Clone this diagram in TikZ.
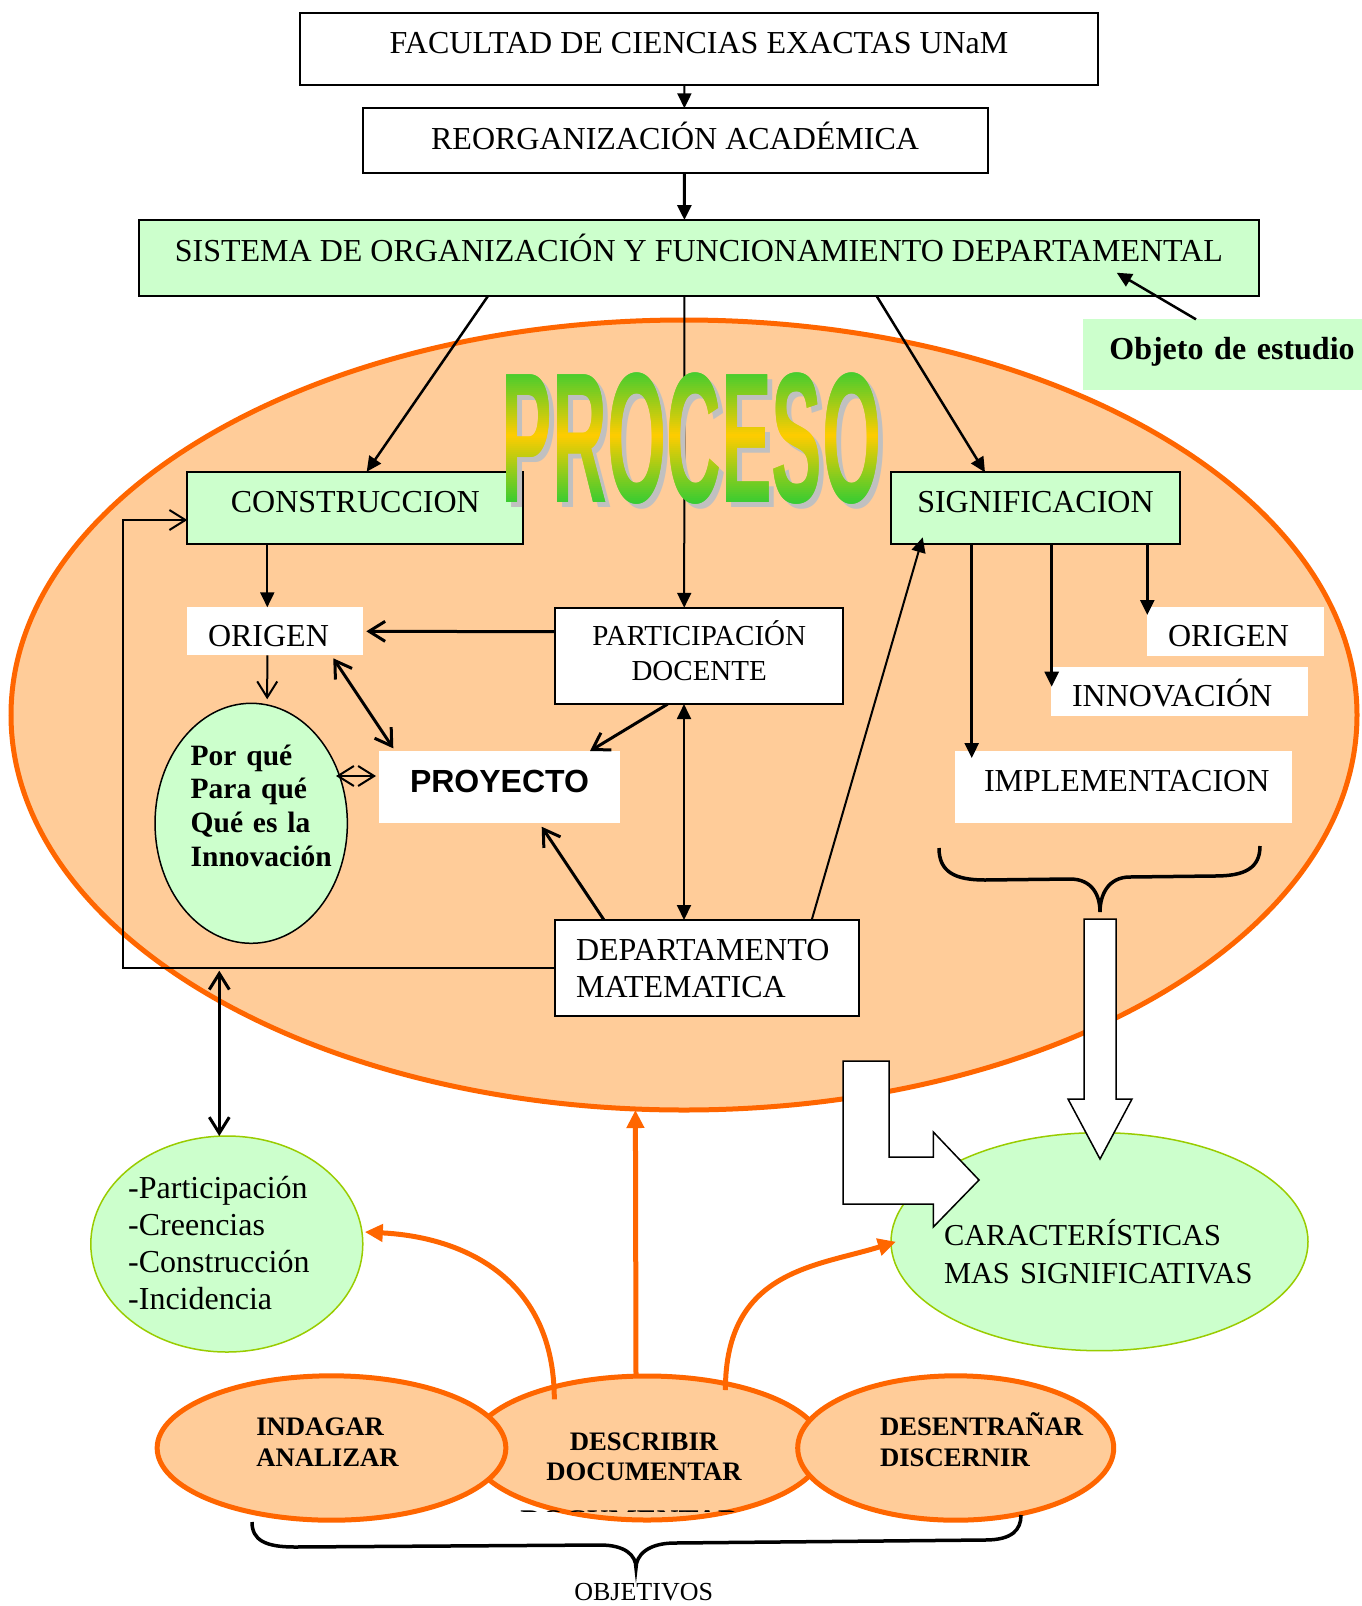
\documentclass[tikz,border=0pt]{standalone}
\usepackage{graphicx}
\usepackage{fontspec}
\setmainfont{Liberation Serif}
\newfontfamily\arialfont{Liberation Sans}
\usetikzlibrary{arrows.meta,shapes.geometric}

\definecolor{peach}{HTML}{FFCC99}
\definecolor{orng}{HTML}{FF6600}
\definecolor{mint}{HTML}{CCFFCC}
\definecolor{lime}{HTML}{99CC00}
\definecolor{procgreen}{HTML}{33CC33}
\definecolor{procyellow}{HTML}{FFCC00}
\definecolor{shadowgray}{HTML}{C0C0C0}

\newcommand\fsz[2]{\fontsize{#1}{#2}\selectfont}
\newcommand\procword{\scalebox{0.76}[1.857]{\arialfont\bfseries\fsz{100}{100}PROCESO}}

\tikzset{
  every node/.append style={outer sep=0pt, font=\fsz{32}{37}},
  wbox/.style={draw, line width=2pt, fill=white, inner sep=0pt, align=center},
  gbox/.style={draw, line width=2pt, fill=mint, inner sep=0pt, align=center},
  pbox/.style={fill=white, inner ysep=0pt},
  txt/.style={inner sep=0pt},
  tri/.style={-{Triangle[length=15pt,width=14pt]}},
  tritri/.style={{Triangle[length=15pt,width=14pt]}-{Triangle[length=15pt,width=14pt]}},
  barb/.style={-{Straight Barb[length=16pt,width=20pt]}},
  barbbarb/.style={{Straight Barb[length=16pt,width=20pt]}-{Straight Barb[length=16pt,width=20pt]}},
  oarrow/.style={draw=orng, line width=5pt, -{Triangle[length=18pt,width=17pt]}},
  objell/.style={ellipse, draw=orng, fill=peach, line width=5pt},
  objtext/.style={txt, font=\bfseries\fsz{26.7}{31.7}},
}

\begin{document}
\begin{tikzpicture}[x=1pt, y=-1pt]
\useasboundingbox (0,0) rectangle (1362,1606);
\fill[white] (0,0) rectangle (1362,1606);

% the process ellipse
\node[ellipse, draw=orng, fill=peach, line width=5pt, minimum width=1346pt, minimum height=790pt] (proc) at (684,715) {};

% top chain
\node[wbox, minimum width=798pt, minimum height=72.3pt, text height=24.4pt, text depth=15.6pt] (fac) at (699,48.9) {FACULTAD DE CIENCIAS EXACTAS UNaM};
\node[wbox, minimum width=625pt, minimum height=64.4pt, text height=28.5pt, text depth=11.5pt] (reo) at (675.1,140.5) {REORGANIZACIÓN ACADÉMICA};
\node[gbox, minimum width=1120.8pt, minimum height=76pt, text height=23.7pt, text depth=16.3pt] (sis) at (698.9,258) {SISTEMA DE ORGANIZACIÓN Y FUNCIONAMIENTO DEPARTAMENTAL};
\node[fill=mint, inner ysep=0pt, inner xsep=26pt, text width=226.7pt, align=left, minimum height=70.7pt, text height=24.3pt, text depth=15.7pt, font=\bfseries\fsz{32}{37}] (obj) at (1222.7,354.7) {\mbox{Objeto de estudio}};

% boxes inside the process
\node[gbox, minimum width=336pt, minimum height=72.3pt, text height=24.4pt, text depth=15.6pt] (con) at (355.3,507.9) {CONSTRUCCION};
\node[gbox, minimum width=289pt, minimum height=71.7pt, text height=24.1pt, text depth=15.9pt] (sig) at (1035.5,508.2) {SIGNIFICACION};
\node[pbox, inner xsep=20.7pt, text width=134.6pt, align=left, minimum height=48pt, text height=35.4pt, text depth=4.6pt] (ori) at (275.3,631.3) {ORIGEN};
\node[wbox, minimum width=288.3pt, minimum height=96.3pt, text width=280pt, text height=9.1pt, text depth=30.9pt, font=\fsz{29}{35}] (par) at (699.2,655.9) {PARTICIPACIÓN\\DOCENTE};
\node[pbox, inner xsep=0pt, minimum width=241pt, minimum height=72.3pt, text height=25.5pt, text depth=14.5pt, font=\arialfont\bfseries\fsz{32}{37}] (pro) at (499.5,787.2) {PROYECTO};
\node[draw, line width=2pt, fill=white, inner ysep=0pt, inner xsep=21pt, text width=262.3pt, align=left, minimum height=96pt, text height=12pt, text depth=28pt, font=\fsz{32}{37.7}] (dep) at (707.2,968) {\mbox{DEPARTAMENTO}\\MATEMATICA};
\node[ellipse, draw, fill=mint, line width=1.5pt, minimum width=192.3pt, minimum height=240pt] (por) at (251.2,823.3) {};
\node[txt, text width=121pt, align=left, text height=11.7pt, text depth=128.3pt, font=\bfseries\fsz{29.5}{33.9}] (portxt) at (por.center) {\mbox{Por qué}\\\mbox{Para qué}\\\mbox{Qué es la}\\\mbox{Innovación}};

\node[pbox, inner xsep=21pt, text width=135pt, align=left, minimum height=48.4pt, text height=35.2pt, text depth=4.8pt] (ori2) at (1235.5,631.5) {ORIGEN};
\node[pbox, inner xsep=21pt, text width=215pt, align=left, minimum height=48.4pt, text height=34.5pt, text depth=5.5pt] (inn) at (1179.5,691.5) {INNOVACIÓN};
\node[pbox, inner xsep=29pt, text width=279pt, align=left, minimum height=72.3pt, text height=24.7pt, text depth=15.3pt] (imp) at (1123.5,787.2) {IMPLEMENTACION};

% line from the top box that passes behind the title
\draw[tri, line width=2pt] ([xshift=-14.5]sis.south) -- ([xshift=-15]par.north);

% PROCESO title: grey shadow, then a banded green-yellow-green fill
\node[txt, anchor=base west, text=shadowgray] (procshadow) at (506.5,507) {\procword};
\foreach \i in {0,...,74} {
  \pgfmathsetmacro\ya{362+2*\i}
  \pgfmathsetmacro\yb{\ya+3}
  \pgfmathsetmacro\pc{min(100,abs(\ya+1-435.5)/69*100)}
  \colorlet{bandcol}{procgreen!\pc!procyellow}
  \begin{scope}
    \clip (495,\ya) rectangle (890,\yb);
    \node[txt, anchor=base west, text=bandcol] (band\i) at (501.5,502) {\procword};
  \end{scope}
}

% top connectors
\draw[tri, line width=2pt] ([xshift=-14.6]fac.south) -- ([xshift=9.3]reo.north);
\draw[tri, line width=3pt] ([xshift=9.3]reo.south) -- ([xshift=-14.5]sis.north);
\draw[tri, line width=2.5pt] ([xshift=-210.9]sis.south) -- ([xshift=11.4]con.north);
\draw[tri, line width=2.5pt] ([xshift=177.7]sis.south) -- ([xshift=-50.5]sig.north);
\draw[tri, line width=2.5pt] ([xshift=-26.7]obj.north) -- ([xshift=417.8,yshift=23.3]sis.south);

% construction side
\draw[tri, line width=2pt] ([xshift=-88]con.south) -- ([xshift=-8]ori.north);
\draw[barb, line width=3pt] ([yshift=24.2]par.west) -- ([xshift=3]ori.east);
\draw[barb, line width=2pt] ([xshift=-8]ori.south) -- ([xshift=16,yshift=4]por.north);
\draw[barbbarb, line width=3pt] ([xshift=-30,yshift=-3]ori.south east) -- ([xshift=14.3,yshift=2.7]pro.north west);
\draw[barbbarb, line width=2pt] ([xshift=84.8,yshift=47.3]por.center) -- ([xshift=-3,yshift=11.2]pro.west);
\draw[barb, line width=3pt] ([xshift=-31.5]par.south) -- ([xshift=90.5]pro.north);
\draw[barb, line width=3pt] ([xshift=-103.2]dep.north) -- ([xshift=42.2,yshift=-3.4]pro.south);
\draw[tritri, line width=2pt] ([xshift=-15.2]par.south) -- ([xshift=-23.2]dep.north);
\draw[tri, line width=2pt] ([xshift=104.5]dep.north) -- ([xshift=-112.8,yshift=6.7]sig.south);
\draw[barb, line width=2pt] (dep.west) -- ++(-432.2,0) |- ([yshift=-12.1]con.west);

% signification side
\draw[tri, line width=2.5pt] ([xshift=-63.8]sig.south) -- ([xshift=-151.8,yshift=-7]imp.north);
\draw[tri, line width=2.5pt] ([xshift=16.2]sig.south) -- ([xshift=0.7,yshift=4.8]inn.west);
\draw[tri, line width=2.5pt] ([xshift=111.8]sig.south) -- ([xshift=0.3,yshift=16.5]ori2.west);

% outer ellipses
\node[ellipse, draw=lime, fill=mint, line width=1.5pt, minimum width=272pt, minimum height=216pt] (part) at (226.8,1244) {};
\node[txt, text width=197.2pt, align=left, text height=14.3pt, text depth=105.7pt] (parttxt) at (part.center) {-Participación\\-Creencias\\-Construcción\\-Incidencia};
\node[ellipse, draw=lime, fill=mint, line width=1.5pt, minimum width=417pt, minimum height=218pt] (car) at (1099.5,1241.7) {};

\coordinate (lp) at (219.3,970.7);
\draw[barbbarb, line width=3pt] (lp) -- ([xshift=-7.5]part.north);

% block arrows
\draw[line width=1.5pt, fill=white] (843,1061) -- (889,1061) -- (889,1157) -- (933.3,1157) -- (933.3,1132) -- (979,1180) -- (933.3,1227) -- (933.3,1204) -- (843,1204) -- cycle;
\draw[line width=1.5pt, fill=white] (1084,919) -- (1116,919) -- (1116,1099) -- (1132,1099) -- (1100,1159) -- (1068,1099) -- (1084,1099) -- cycle;

\node[txt, text width=311pt, align=left, text height=43.3pt, text depth=36.7pt, font=\fsz{30.4}{38.3}] (cartxt) at (car.center) {\mbox{CARACTERÍSTICAS}\\\mbox{MAS SIGNIFICATIVAS}};

% objectives
\node[objell, minimum width=352pt, minimum height=144pt] (desc) at (647,1448) {};
\node[objell, minimum width=348.7pt, minimum height=144.4pt] (ind) at (331.5,1448) {};
\node[objell, minimum width=316pt, minimum height=144.4pt] (den) at (955.7,1448) {};
\node[objtext, text width=150.4pt, align=left, text height=17pt, text depth=43pt] (indtxt) at (ind.center) {\mbox{INDAGAR}\\\mbox{ANALIZAR}};
\node[objtext, text width=300pt, align=center, text height=32.7pt, text depth=27.3pt, font=\bfseries\fsz{26.7}{30}] (desctxt) at ([xshift=-3]desc.center) {DESCRIBIR\\DOCUMENTAR};
\node[objtext, text width=151.4pt, align=left, text height=17pt, text depth=43pt] (dentxt) at (den.center) {\mbox{DESENTRAÑAR}\\\mbox{DISCERNIR}};

% a stray line of lettering, only its top edge showing
\begin{scope}
  \clip (515,1508.8) rectangle (745,1511.6);
  \node[txt, anchor=base, font=\bfseries\fsz{30}{30}] (ghost) at (630,1530) {DOCUMENTAR};
\end{scope}

% orange connectors
\draw[oarrow] ([xshift=-11]desc.north) -- ([xshift=-48.6]proc.south);
\draw[oarrow] ([xshift=-92.7,yshift=48.7]desc.center) .. controls +(0,-120) and +(100,5) .. ([xshift=2,yshift=12]part.east);
\draw[oarrow] ([xshift=78.4,yshift=58]desc.center) .. controls +(0,-120) and +(-80,25) .. ([xshift=5]car.west);

% braces
\draw[line width=3.5pt] (939,848) .. controls (939,872) and (955,880) .. (985,880) -- (1070,879) .. controls (1092,879) and (1100,895) .. (1100,912) .. controls (1100,895) and (1108,877) .. (1130,877) -- (1215,876) .. controls (1245,876) and (1260,868) .. (1260,846);
\draw[line width=3.5pt] (252,1522) .. controls (252,1540) and (265,1547) .. (295,1547) -- (600,1545) .. controls (625,1545) and (636,1555) .. (636,1568) .. controls (636,1555) and (648,1543) .. (675,1543) -- (985,1540) .. controls (1012,1540) and (1021,1530) .. (1021,1515);

\node[txt, anchor=base, font=\fsz{26}{30}] (objetivos) at (643.7,1600.7) {OBJETIVOS};
\end{tikzpicture}
\end{document}
